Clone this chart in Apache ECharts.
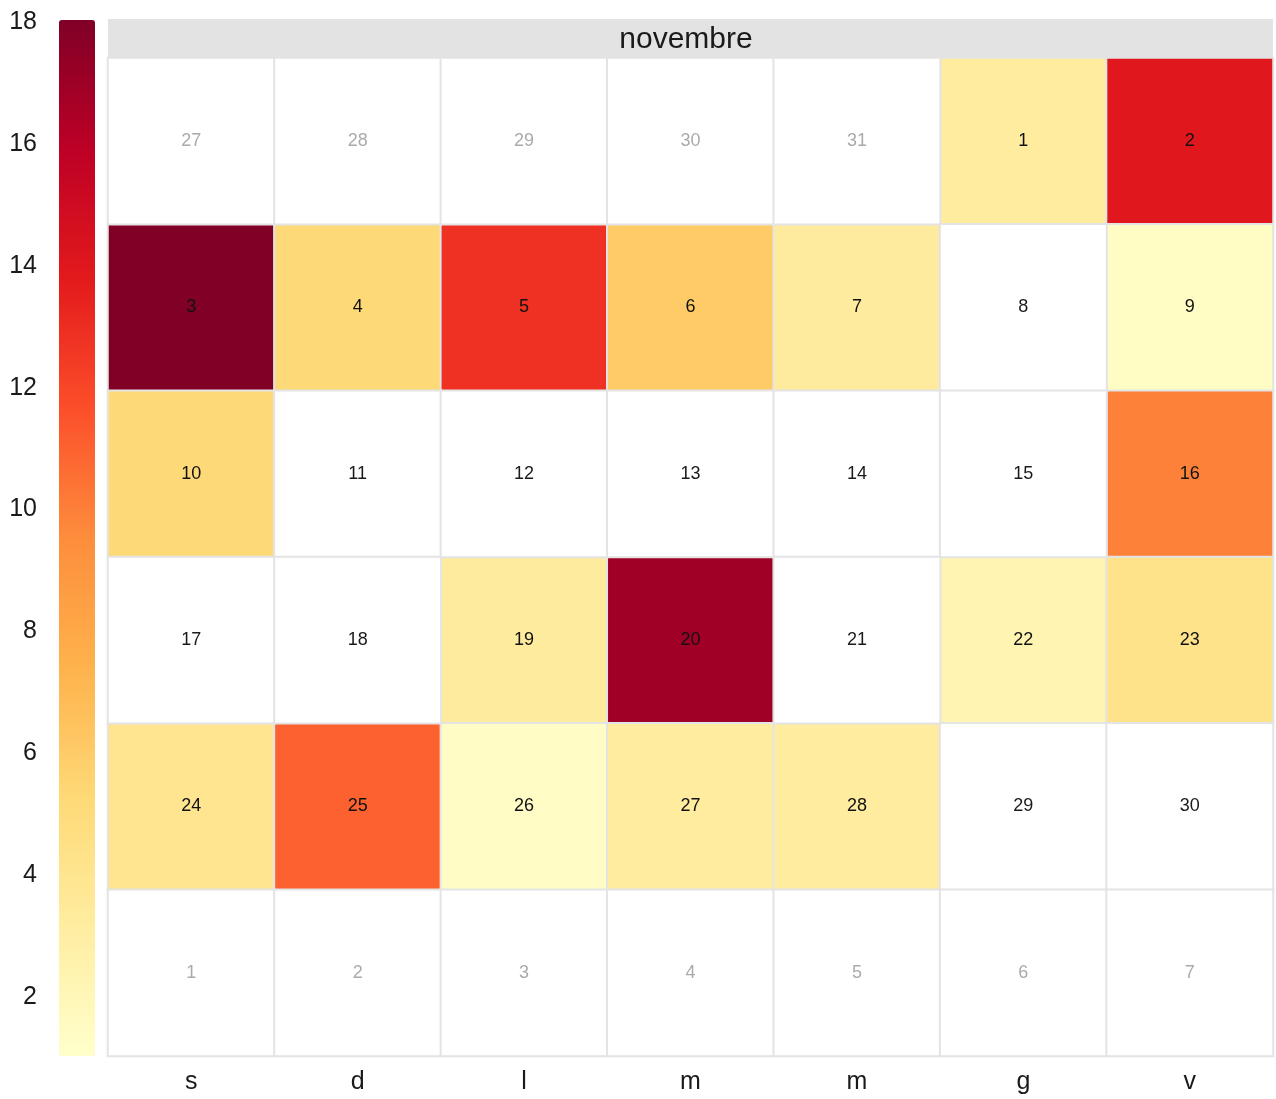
<!DOCTYPE html>
<html>
<head>
<meta charset="utf-8">
<script src="https://cdn.jsdelivr.net/npm/echarts@6/dist/echarts.min.js"></script>
<style>html,body{margin:0;padding:0;background:#fff}#c{width:1276px;height:1099px}</style>
</head>
<body>
<div id="c"></div>
<script>
// ---- data ----
const monthName = 'novembre';
const year = 2018, monthIndex = 10; // November
const weekdayLabels = ['s', 'd', 'l', 'm', 'm', 'g', 'v']; // week starts on Saturday
const weekStartDay = 6; // Saturday (JS getDay)
// daily values for Nov 1..30 (null = no value)
const dayValues = [3.2, 13.9, 18, 5.2, 12.8, 6, 3.3, null, 1.4, 5.2,
                   null, null, null, null, null, 9.9, null, null, 3.3, 16.9,
                   null, 2.3, 4.2, 4, 11, 1.3, 3.2, 3.2, null, null];
const colorMin = 1, colorMax = 18;
const legendTicks = [2, 4, 6, 8, 10, 12, 14, 16, 18];
const palette = ['#ffffcc', '#ffeda0', '#fed976', '#feb24c', '#fd8d3c', '#fc4e2a', '#e31a1c', '#bd0026', '#800026'];

// ---- build cells from calendar logic ----
const first = new Date(year, monthIndex, 1);
const offset = (first.getDay() - weekStartDay + 7) % 7;
const nWeeks = 6;
const filled = [], empty = [];
for (let i = 0; i < nWeeks * 7; i++) {
  const d = new Date(year, monthIndex, 1 - offset + i);
  const col = i % 7, row = Math.floor(i / 7);
  const inMonth = d.getMonth() === monthIndex;
  const dayNum = d.getDate();
  const v = inMonth ? dayValues[dayNum - 1] : null;
  if (v !== null && v !== undefined) filled.push([col, row, v, dayNum]);
  else empty.push({value: [col, row, 0, dayNum], label: {color: inMonth ? '#1a1a1a' : '#aaaaaa'}});
}

const chart = echarts.init(document.getElementById('c'), null, {renderer: 'canvas'});
const FONT = '"Liberation Sans", Arial, sans-serif';
const cellLabel = p => String(p.value[3]);
chart.setOption({
  animation: false,
  backgroundColor: '#fff',
  grid: [
    {left: 108, right: 3, top: 58, bottom: 43},
    {left: 59, width: 1, top: 22, height: 1036}
  ],
  xAxis: [
    {type: 'category', gridIndex: 0, data: weekdayLabels.map((_, i) => i),
     axisLine: {show: false}, axisTick: {show: false}, splitLine: {show: false},
     axisLabel: {formatter: v => weekdayLabels[+v], fontSize: 25, color: '#1a1a1a', fontFamily: FONT, margin: 14}},
    {type: 'value', gridIndex: 1, show: false}
  ],
  yAxis: [
    {type: 'category', gridIndex: 0, inverse: true, data: Array.from({length: nWeeks}, (_, i) => i), show: false},
    {type: 'value', gridIndex: 1, min: colorMin, max: colorMax, interval: 1, position: 'left',
     axisLine: {show: false}, axisTick: {show: false}, splitLine: {show: false},
     axisLabel: {margin: 22, fontSize: 25, color: '#1a1a1a', fontFamily: FONT,
       formatter: v => legendTicks.indexOf(v) >= 0 ? String(v) : ''}}
  ],
  visualMap: {
    type: 'continuous', min: colorMin, max: colorMax, dimension: 2, seriesIndex: 0,
    left: 59, top: 20, itemWidth: 36, itemHeight: 1036, padding: 0,
    calculable: false, show: true,
    inRange: {color: palette}
  },
  graphic: [
    {type: 'rect', left: 108, top: 19, shape: {width: 1165, height: 39}, style: {fill: '#e3e3e3'}, z: 10},
    {type: 'text', x: 686, y: 40, style: {text: monthName, fontSize: 30, fill: '#1a1a1a', fontFamily: FONT,
      align: 'center', verticalAlign: 'middle'}, z: 11}
  ],
  series: [
    {type: 'heatmap', xAxisIndex: 0, yAxisIndex: 0, data: filled,
     itemStyle: {borderColor: '#e4e4e4', borderWidth: 2},
     label: {show: true, formatter: cellLabel, fontSize: 18, color: '#111', fontFamily: FONT},
     emphasis: {disabled: true}},
    {type: 'heatmap', xAxisIndex: 0, yAxisIndex: 0, data: empty,
     itemStyle: {color: '#ffffff', borderColor: '#e4e4e4', borderWidth: 2},
     label: {show: true, fontSize: 18, fontFamily: FONT, formatter: cellLabel},
     emphasis: {disabled: true}}
  ]
});
</script>
</body>
</html>
